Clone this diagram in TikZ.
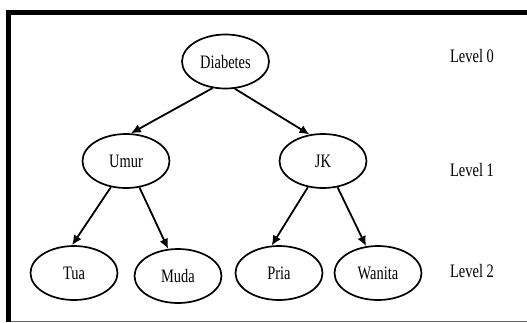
\documentclass[tikz,border=0pt]{standalone}
\usepackage{fontspec}
\setmainfont{Liberation Serif}[FakeStretch=0.76]
\usetikzlibrary{shapes.geometric,arrows.meta}
\begin{document}
\begin{tikzpicture}[x=1pt,y=-1pt,
  nodeell/.style={draw,ellipse,line width=1.7pt,minimum width=87pt,minimum height=54pt,inner sep=0pt,font=\fontsize{19}{21}\selectfont},
  lvl/.style={font=\fontsize{19}{21}\selectfont,inner sep=0pt},
  edge/.style={line width=1.8pt,-{Latex[length=10pt,width=9pt]}}]
\useasboundingbox (0,0) rectangle (527,322);
\fill[white] (0,0) rectangle (527,322);
% frame
\draw[line width=0.9pt,black!60] (8,321) -- (527,321);
\draw[line width=5pt] (8,322) -- (8,12) -- (527,12);
% nodes
\node[nodeell] (d) at (225.5,61.5) {Diabetes};
\node[nodeell] (u) at (126,161) {Umur};
\node[nodeell] (j) at (323,161) {JK};
\node[nodeell] (t) at (74,273) {Tua};
\node[nodeell] (m) at (178,276) {Muda};
\node[nodeell] (p) at (279,273) {Pria};
\node[nodeell] (w) at (378,273) {Wanita};
\node[lvl] (l0) at (472,56) {Level 0};
\node[lvl] (l1) at (472,170) {Level 1};
\node[lvl] (l2) at (472,271) {Level 2};
% edges
\draw[edge] (d.244) -- (u.80);
\draw[edge] (d.289) -- (j.117);
\draw[edge] (u.240) -- (t.94);
\draw[edge] (u.297) -- (m.110);
\draw[edge] (j.240) -- (p.105);
\draw[edge] (j.299) -- (w.114);
\end{tikzpicture}
\end{document}
